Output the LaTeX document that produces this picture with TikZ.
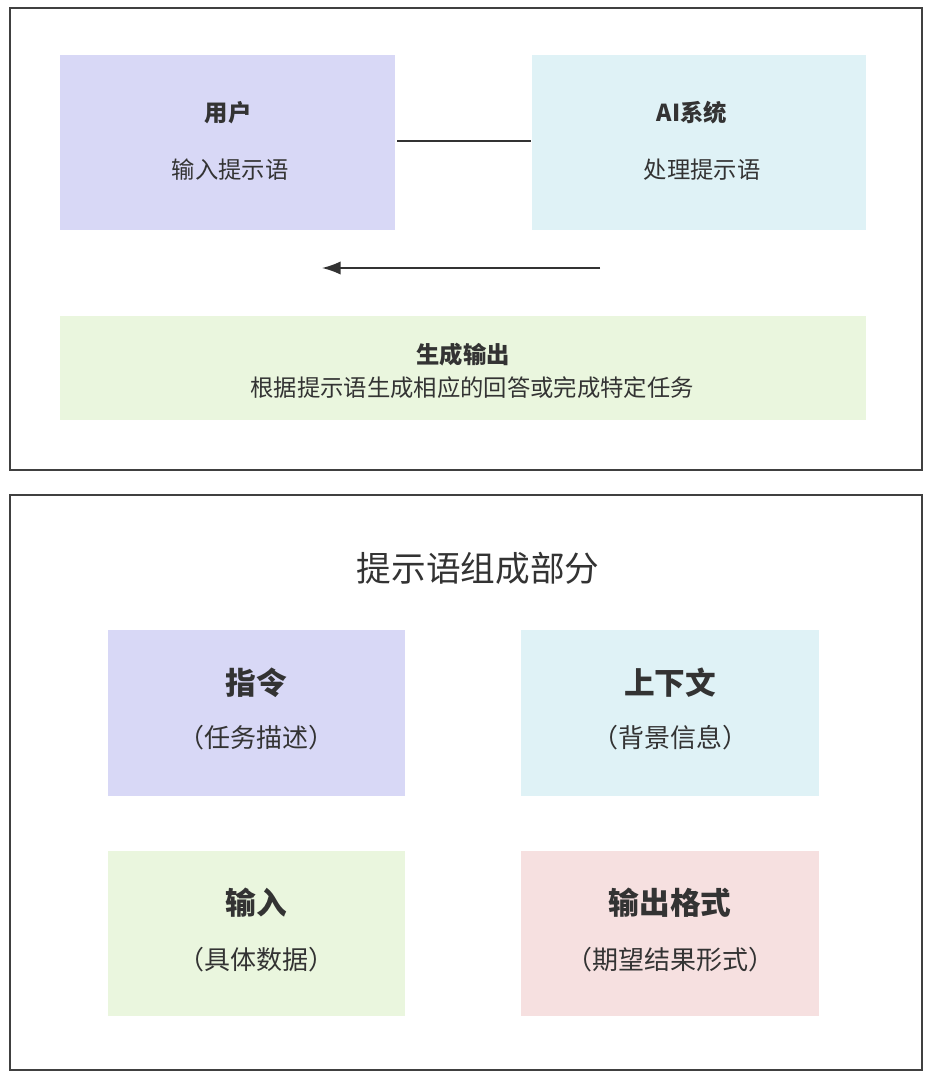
\documentclass[tikz,border=0pt]{standalone}
\usepackage{fontspec}
\usetikzlibrary{arrows.meta}
\setmainfont{Noto Sans CJK SC}
\definecolor{lav}{HTML}{D8D8F6}
\definecolor{cya}{HTML}{DFF2F6}
\definecolor{grn}{HTML}{EAF6DE}
\definecolor{pnk}{HTML}{F6E0E0}
\definecolor{txt}{HTML}{333333}
\tikzset{panel/.style={draw=black!75,line width=1.5pt},
ttl/.style={font=\fontsize{17.5}{20}\selectfont\bfseries,text=txt},
sub/.style={font=\fontsize{17.5}{20}\selectfont,text=txt},
ttlb/.style={font=\fontsize{23}{26}\selectfont\bfseries,text=txt},
subb/.style={font=\fontsize{19.5}{22}\selectfont,text=txt}}
\begin{document}
\begin{tikzpicture}[x=0.75pt,y=-0.75pt]
\useasboundingbox (0,0) rectangle (932,1080);
\fill[white] (0,0) rectangle (932,1080);
\draw[panel] (10,8) rectangle (922,470);
\draw[panel] (10,495) rectangle (922,1070);
\fill[lav] (60,55) rectangle (395,230);
\fill[cya] (532,55) rectangle (866,230);
\fill[grn] (60,316) rectangle (866,420);
\node[ttl] (u) at (228,113) {用户};
\node[sub] (us) at (230,170) {输入提示语};
\node[ttl] (a) at (692,113) {AI系统};
\node[sub] (as) at (702,170) {处理提示语};
\coordinate (l1) at (397,141); \coordinate (l2) at (531,141);
\draw[line width=1pt,black!80] (l1) -- (l2);
\coordinate (r1) at (600,268); \coordinate (r2) at (322,268);
\draw[line width=1.2pt,black!80,-{Latex[length=14pt,width=10pt]}] (r1) -- (r2);
\node[ttl] (g) at (463,355) {生成输出};
\node[sub] (gs) at (472,388) {根据提示语生成相应的回答或完成特定任务};
\node[font=\fontsize{26}{30}\selectfont,text=txt] (t) at (478,568) {提示语组成部分};
\fill[lav] (108,630) rectangle (405,796);
\fill[cya] (521,630) rectangle (819,796);
\fill[grn] (108,851) rectangle (405,1016);
\fill[pnk] (521,851) rectangle (819,1016);
\node[ttlb] (b1) at (256,683) {指令};
\node[subb] (b1s) at (256,738) {（任务描述）};
\node[ttlb] (b2) at (670,683) {上下文};
\node[subb] (b2s) at (670,738) {（背景信息）};
\node[ttlb] (b3) at (256,903) {输入};
\node[subb] (b3s) at (256,960) {（具体数据）};
\node[ttlb] (b4) at (670,903) {输出格式};
\node[subb] (b4s) at (670,960) {（期望结果形式）};
\end{tikzpicture}
\end{document}
